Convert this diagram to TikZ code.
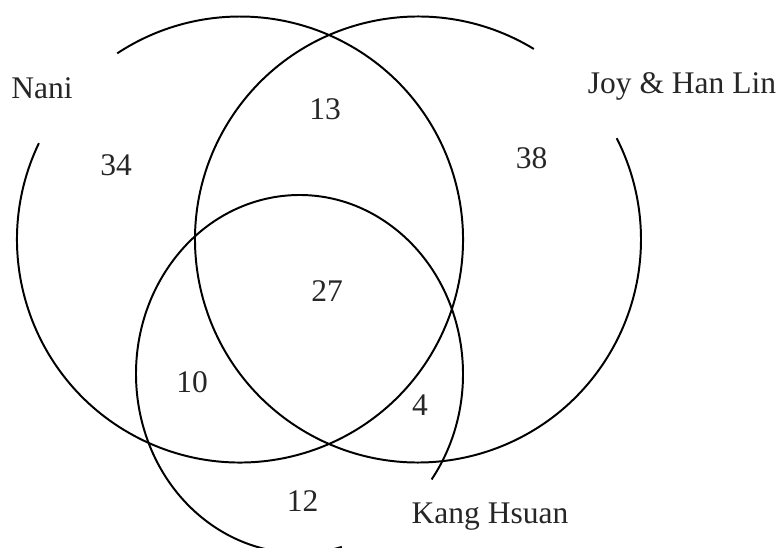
\documentclass[tikz,border=0pt]{standalone}
\usepackage{fontspec}
\setmainfont{Liberation Serif}
\usetikzlibrary{calc}

\tikzset{
  korvonal/.style={line width=1.4pt, black},
  felirat/.style={anchor=base, inner sep=0pt, text=black!85,
    font=\fontsize{22.4}{26}\selectfont}
}

\begin{document}
\begin{tikzpicture}[x=0.025cm, y=0.025cm]
    \useasboundingbox (0,0) rectangle (781,547);
    \clip (0,0) rectangle (781,547);

    % Halmazok kozeppontjai
    \coordinate (nani) at (240,307.5);
    \coordinate (joy)  at (418,307.5);
    \coordinate (kang) at (299.5,173);

    % Korok (a feliratoknal kihagyva)
    \draw[korvonal] ([shift={(154.4:223)}]nani) arc[start angle=154.4, end angle=483.4, radius=223];
    \draw[korvonal] ([shift={(58.7:223)}]joy) arc[start angle=58.7, end angle=387, radius=223];
    \draw[korvonal] ($(kang)+({163.5*cos(-36.1)},{179*sin(-36.1)})$)
        arc[start angle=-36.1, end angle=285, x radius=163.5, y radius=179];

    % Nevek
    \node[felirat] (naninev) at (42,448)    {Nani};
    \node[felirat] (joynev)  at (682,453.7) {Joy \& Han Lin};
    \node[felirat] (kangnev) at (490,24)    {Kang Hsuan};

    % Szamok
    \node[felirat] (n34) at (116,371.3) {34};
    \node[felirat] (n13) at (325,427)   {13};
    \node[felirat] (n38) at (531.7,378) {38};
    \node[felirat] (n27) at (327,246)   {27};
    \node[felirat] (n10) at (192,155)   {10};
    \node[felirat] (n4)  at (420,132)   {4};
    \node[felirat] (n12) at (302.5,35.3) {12};
\end{tikzpicture}
\end{document}
